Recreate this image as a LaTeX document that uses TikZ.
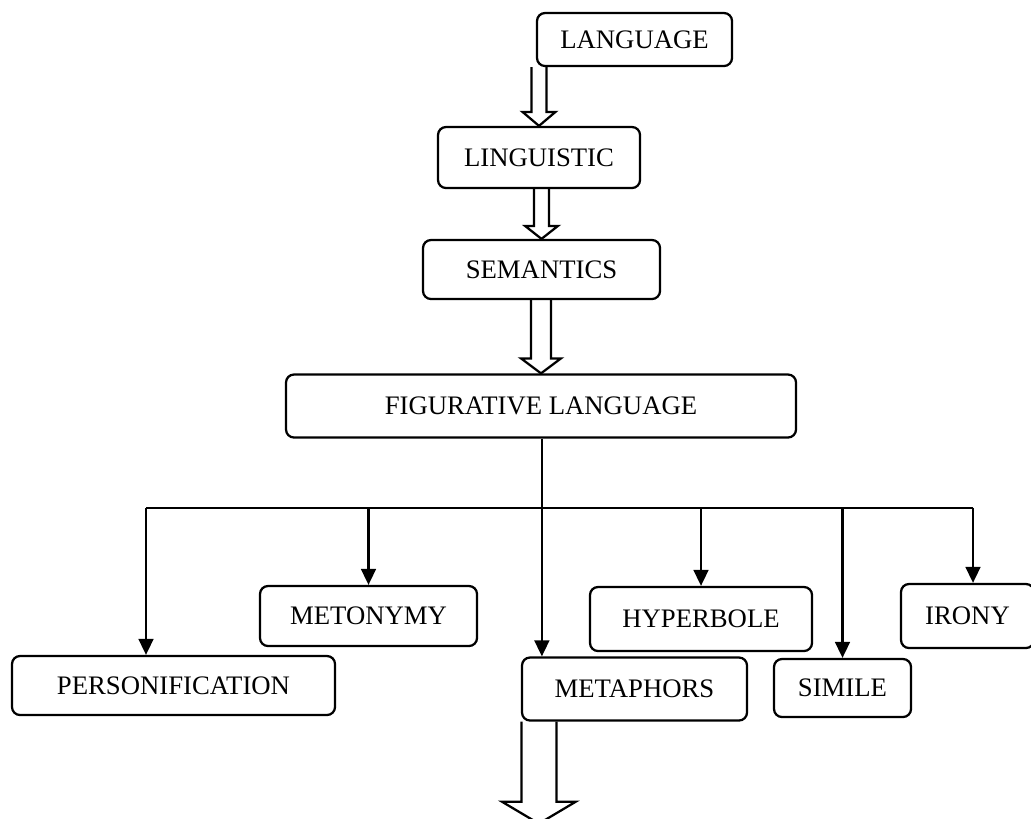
\documentclass[tikz,border=0pt]{standalone}
\usepackage{fontspec}
\setmainfont{Liberation Serif}
\usepackage{tikz}
\usetikzlibrary{arrows.meta}
\usetikzlibrary{calc}

\tikzset{
  box/.style 2 args={draw, rounded corners=0.2cm, line width=1.6pt, minimum width=#1*0.025cm, minimum height=#2*0.025cm, inner sep=0pt, font=\fontsize{19}{22}\selectfont},
  branch/.style={line width=1.6pt, -{Triangle[length=0.4cm,width=0.37cm]}},
  hollow/.style={draw, line width=1.6pt, line join=miter}
}

\newcommand{\blockarrow}[5]{%
  \draw[hollow] ($(#2 |- #1.south)+(-#3,0)$) -- ($(#2)+(-#3,-#5)$) -- ($(#2)+(-#4,-#5)$) -- (#2) -- ($(#2)+(#4,-#5)$) -- ($(#2)+(#3,-#5)$) -- ($(#2 |- #1.south)+(#3,0)$);
}

\begin{document}
\begin{tikzpicture}[x=0.025cm, y=-0.025cm]
\path[use as bounding box, clip] (0,0) rectangle (1031,818);

\node[box={195}{53}] (lang) at (634.5,39.5) {LANGUAGE};
\node[box={202}{61}] (ling) at (539,157.5) {LINGUISTIC};
\node[box={237}{59}] (sem) at (541.5,269.5) {SEMANTICS};
\node[box={510}{63}] (fig) at (541,406) {FIGURATIVE LANGUAGE};

\node[box={323}{59}] (pers) at (173.5,685.5) {PERSONIFICATION};
\node[box={217}{60}] (meto) at (368.5,616) {METONYMY};
\node[box={225}{63}] (meta) at (634.5,689) {METAPHORS};
\node[box={222}{64}] (hyper) at (701,619) {HYPERBOLE};
\node[box={137}{58}] (simile) at (842.5,688) {SIMILE};
\node[box={133}{64}] (irony) at (967.5,616) {IRONY};

\coordinate (bus) at ($(fig.south)+(0,69)$);
\coordinate (dp) at ($(pers.north)+(-27.5,0)$);
\coordinate (dt) at ($(meta.north west)+(21,0)$);
\coordinate (di) at ($(irony.north)+(5.5,0)$);
\coordinate (down) at ($(meta.south west)+(18,102)$);

\blockarrow{lang}{ling.north}{7.5}{16.5}{14}
\blockarrow{ling}{sem.north}{7.5}{16.5}{13}
\blockarrow{sem}{fig.north}{10}{20}{15}
\blockarrow{meta}{down}{17.5}{37}{22}

\draw[line width=1.6pt] (dp |- bus) -- (di |- bus);
\draw[branch] (fig.south -| dt) -- (dt);
\foreach \n in {dp,meto.north,hyper.north,simile.north,di}
  \draw[branch] (\n |- bus) -- (\n);
\end{tikzpicture}
\end{document}
